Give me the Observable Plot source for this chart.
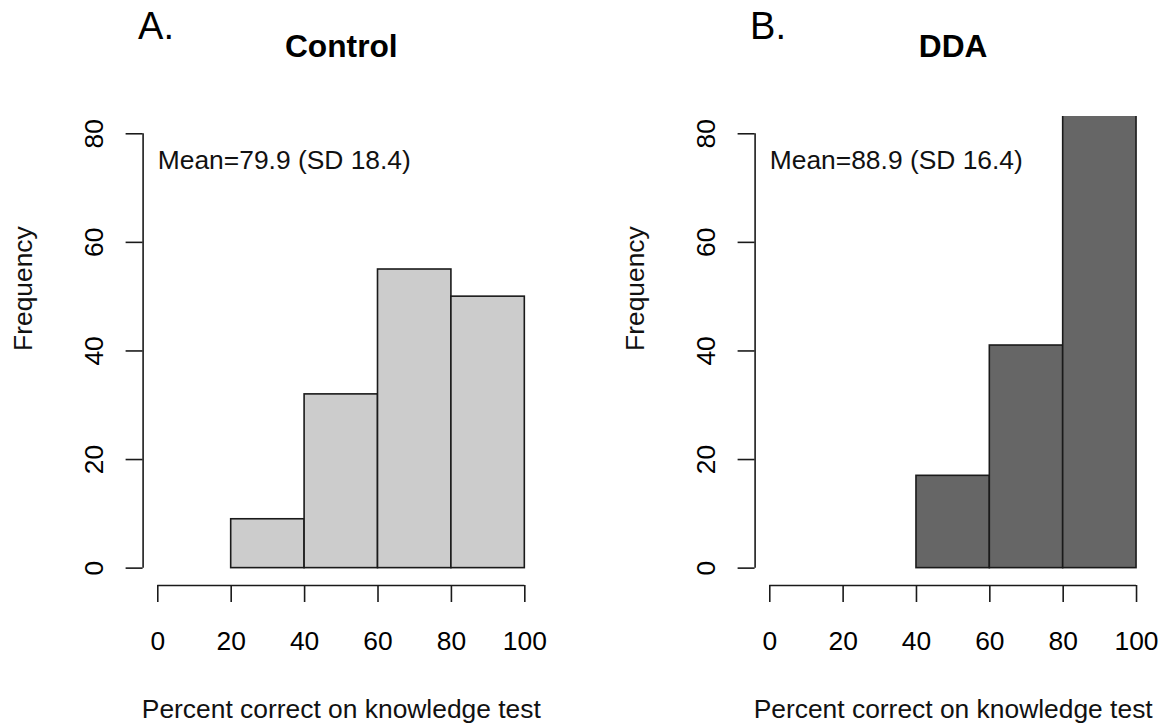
<!DOCTYPE html>
<html><head><meta charset="utf-8">
<script src="https://cdn.jsdelivr.net/npm/d3@7"></script>
<script src="https://cdn.jsdelivr.net/npm/@observablehq/plot@0.6"></script>
<style>
html,body{margin:0;padding:0;background:#fff;}
#wrap{position:relative;width:1173px;height:728px;overflow:hidden;}
#wrap svg{position:absolute;top:0;}
</style></head><body><div id="wrap"></div>
<script>
const binStarts = [0, 20, 40, 60, 80];
const binEnds = [20, 40, 60, 80, 100];
const controlCounts = [0, 9, 32, 55, 50];
const ddaCounts = [0, 0, 17, 41, 88];
const xTicks = [0, 20, 40, 60, 80, 100];
const yTicks = [0, 20, 40, 60, 80];
const panelLetters = ["A.", "B."];
const panelTitles = ["Control", "DDA"];
const meanLabels = ["Mean=79.9 (SD 18.4)", "Mean=88.9 (SD 16.4)"];
const fills = ["#cccccc", "#666666"];
const xLabel = "Percent correct on knowledge test";
const yLabel = "Frequency";

const FONT = "'Liberation Sans', Arial, Helvetica, sans-serif";
const FS = 26.4;

function expand(t) {
  const lo = d3.min(t), hi = d3.max(t), r = hi - lo;
  return [lo - 0.04 * r, hi + 0.04 * r];
}
const xDom = expand(xTicks);
const yDom = expand(yTicks);

function panel(i, counts, left, width, marginLeft, marginRight) {
  const bins = binStarts.map((s, k) => ({x1: s, x2: binEnds[k], count: counts[k]})).filter(d => d.count > 0);
  const svg = Plot.plot({
    width, height: 728,
    marginLeft, marginRight, marginTop: 115.9, marginBottom: 143,
    style: {fontFamily: FONT, fontSize: FS + "px", color: "#000", background: "transparent"},
    x: {domain: xDom},
    y: {domain: yDom},
    marks: [
      Plot.rectY(bins, {x1: "x1", x2: "x2", y1: 0, y2: "count", fill: fills[i], stroke: "#1a1a1a", strokeWidth: 1.6, clip: true}),
      Plot.ruleY([xDom[0]].map(() => yDom[0]), {x1: d3.min(xTicks), x2: d3.max(xTicks), stroke: "#1a1a1a", strokeWidth: 1.6}),
      Plot.ruleX([xDom[0]], {y1: d3.min(yTicks), y2: d3.max(yTicks), stroke: "#1a1a1a", strokeWidth: 1.6}),
      Plot.axisX({ticks: xTicks, tickSize: 17, tickPadding: 29, fontSize: FS, label: null, strokeWidth: 1.6, stroke: "#1a1a1a"}),
      Plot.axisY({ticks: yTicks, tickSize: 17, tickPadding: 23, tickRotate: -90, fontSize: FS, label: null, strokeWidth: 1.6, stroke: "#1a1a1a"}),
      Plot.text([meanLabels[i]], {x: 0, y: 75, text: d => d, textAnchor: "start", lineAnchor: "middle", fontSize: FS, fill: "#111"}),
      Plot.text([panelTitles[i]], {frameAnchor: "top", text: d => d, dy: -59, lineAnchor: "bottom", fontWeight: "bold", fontSize: 31.7, fill: "#000"}),
      Plot.text([panelLetters[i]], {frameAnchor: "top-left", text: d => d, dx: -5, dy: -77, lineAnchor: "bottom", textAnchor: "start", fontSize: 38, fill: "#000"}),
      Plot.text([xLabel], {frameAnchor: "bottom", text: d => d, dy: 132, lineAnchor: "bottom", fontSize: FS, fill: "#111"}),
      Plot.text([yLabel], {frameAnchor: "left", text: d => d, dx: -111, rotate: -90, lineAnchor: "bottom", fontSize: FS, fill: "#111"})
    ]
  });
  svg.style.left = left + "px";
  document.getElementById("wrap").appendChild(svg);
}

panel(0, controlCounts, 0, 586, 142.6, 47);
panel(1, ddaCounts, 586, 587, 168.6, 22.3);
</script>
</body></html>
